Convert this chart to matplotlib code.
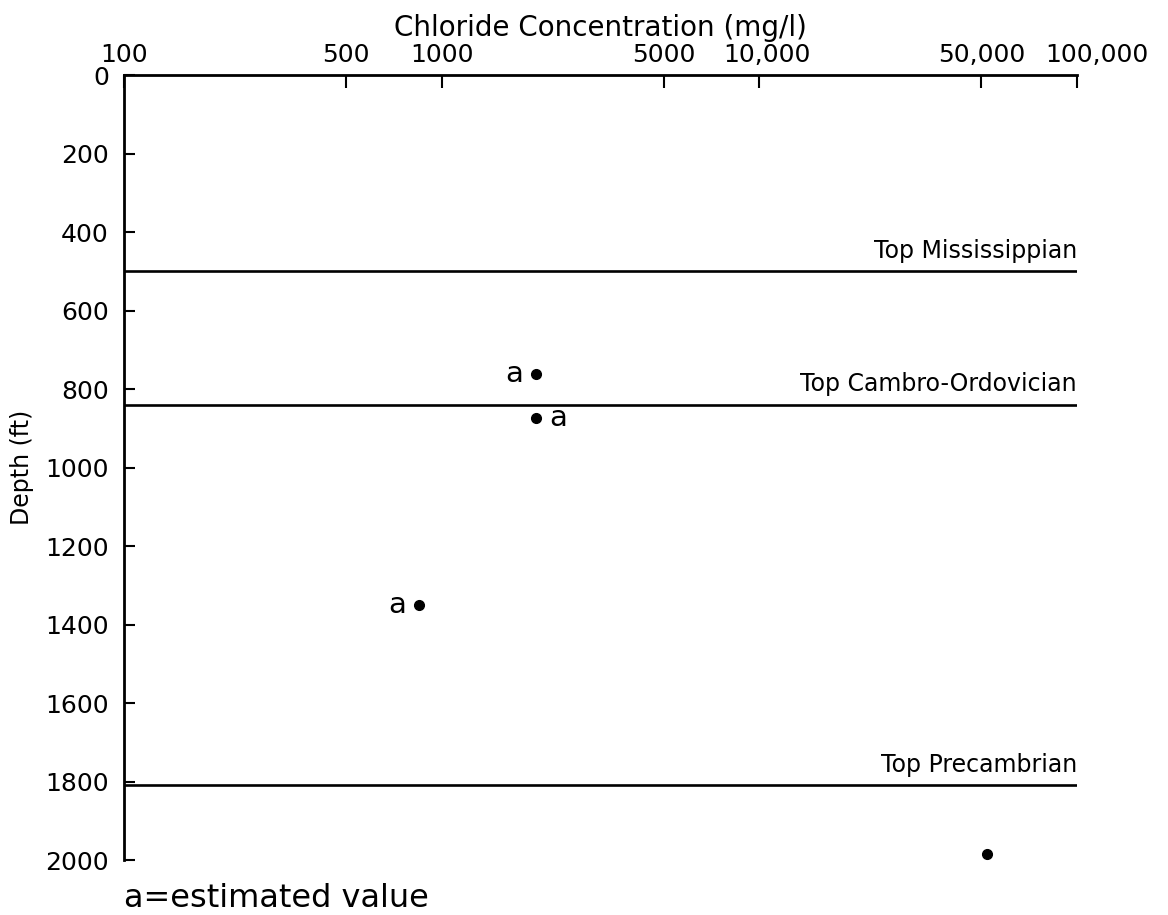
import numpy as np
import matplotlib
matplotlib.use("Agg")
import matplotlib.pyplot as plt
from matplotlib.transforms import ScaledTranslation

# chloride samples: concentration (mg/l) vs depth (ft)
chloride = [1980, 1980, 850, 52000]
depth = [762, 875, 1350, 1985]
estimated = [True, True, True, False]
label_side = ["left", "right", "left", None]

# formation tops (ft)
tops = ["Top Mississippian", "Top Cambro-Ordovician", "Top Precambrian"]
top_depth = [500, 840, 1810]

xticks = [100, 500, 1000, 5000, 10000, 50000, 100000]
xticklabels = ["100", "500", "1000", "5000", "10,000", "50,000", "100,000"]
yticks = list(range(0, 2001, 200))

plt.rcParams["font.family"] = "DejaVu Sans"

fig = plt.figure(figsize=(11.68, 9.15), dpi=100)
ax = fig.add_axes([0.1062, 0.0601, 0.8159, 0.8579])

ax.set_xscale("log")
ax.set_xlim(100, 100000)
ax.set_ylim(2000, 0)

ax.xaxis.tick_top()
ax.xaxis.set_label_position("top")
ax.set_xticks(xticks)
ax.set_xticklabels(xticklabels)
ax.xaxis.set_minor_locator(matplotlib.ticker.NullLocator())
ax.set_yticks(yticks)

ax.tick_params(axis="x", direction="in", length=9, width=1.5, pad=6, labelsize=18)
ax.tick_params(axis="y", direction="in", length=8, width=1.5, pad=11, labelsize=18)

# push the last two labels apart a little
ax.get_xticklabels()[-1].set_transform(
    ax.get_xticklabels()[-1].get_transform() + ScaledTranslation(0.2, 0, fig.dpi_scale_trans))
ax.get_xticklabels()[-3].set_transform(
    ax.get_xticklabels()[-3].get_transform() + ScaledTranslation(0.08, 0, fig.dpi_scale_trans))

for s in ["right", "bottom"]:
    ax.spines[s].set_visible(False)
for s in ["left", "top"]:
    ax.spines[s].set_linewidth(2)

ax.set_xlabel("Chloride Concentration (mg/l)", fontsize=20, labelpad=5)
ax.set_ylabel("Depth (ft)", fontsize=17, labelpad=8)

# formation boundaries
for name, d in zip(tops, top_depth):
    ax.axhline(d, color="k", lw=1.9)
    ax.annotate(name, xy=(1, d), xycoords=("axes fraction", "data"),
                xytext=(0, 6), textcoords="offset points",
                ha="right", va="bottom", fontsize=17)

ax.plot(chloride, depth, "o", color="k", ms=7, ls="none")

for x, y, est, side in zip(chloride, depth, estimated, label_side):
    if not est:
        continue
    dx = -16 if side == "left" else 16
    ax.annotate("a", xy=(x, y), xytext=(dx, 0), textcoords="offset points",
                ha="center", va="center", fontsize=21)

fig.text(0.1062, 0.018, "a=estimated value", fontsize=23, ha="left", va="center")

plt.savefig("out.png", dpi=100, facecolor="white")
